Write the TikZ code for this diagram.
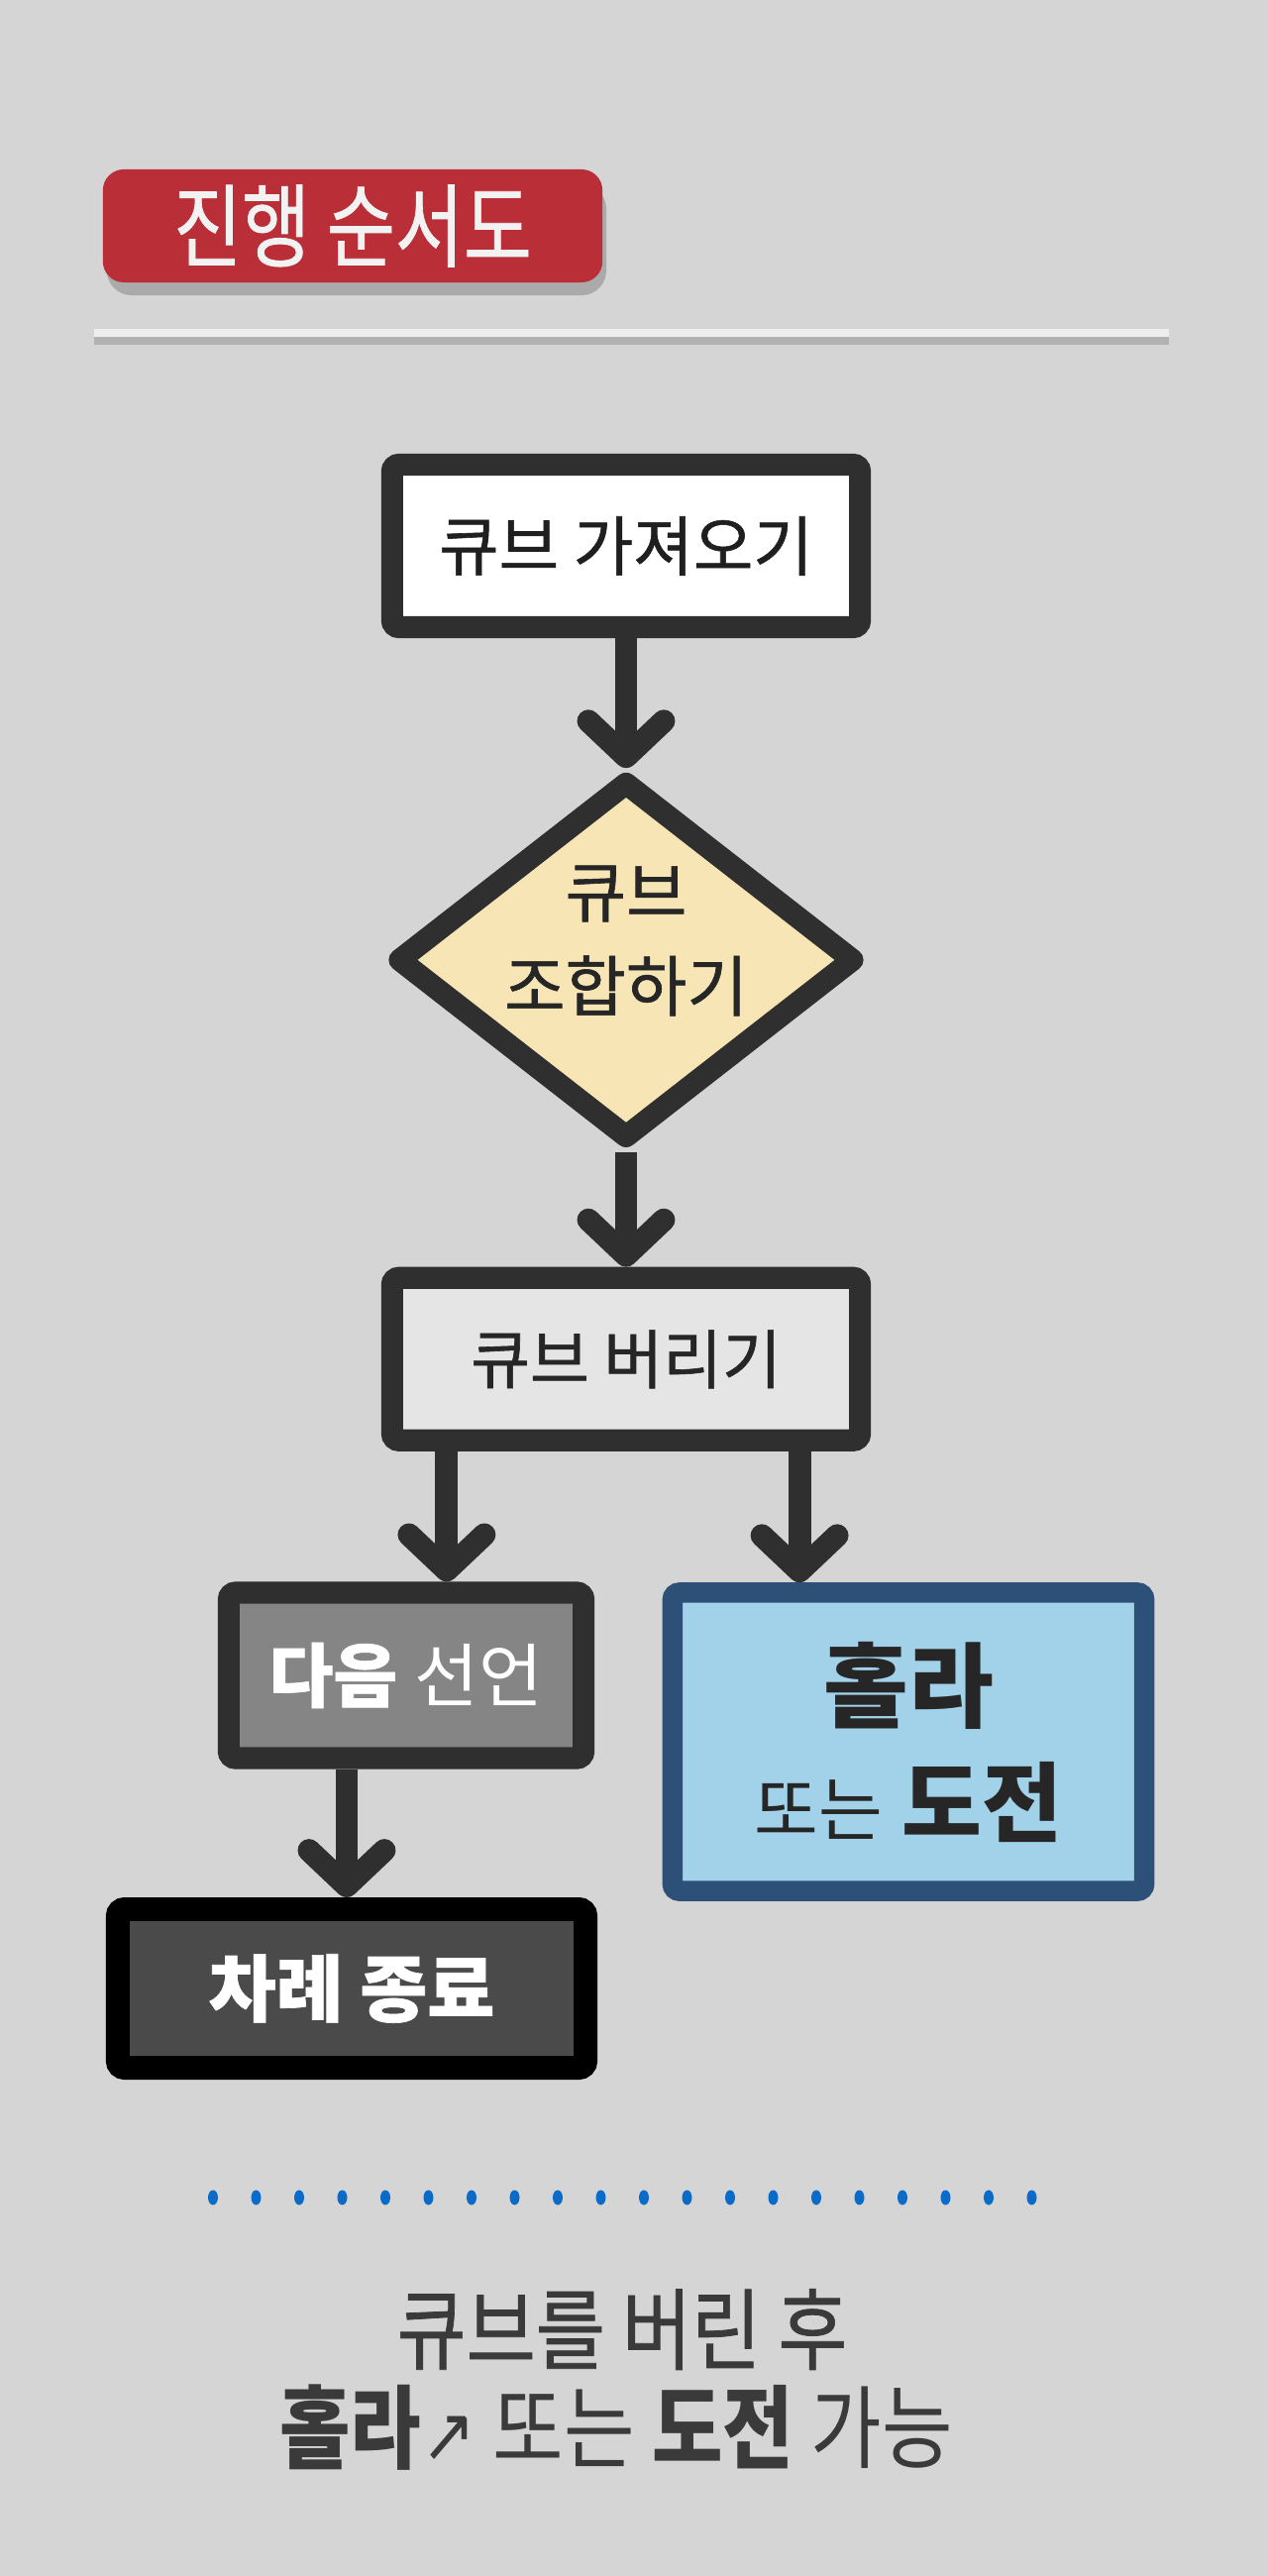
\documentclass[tikz,border=0pt]{standalone}
\usepackage{fontspec}
\setmainfont{Noto Sans CJK KR}
\newfontfamily\medfont{Noto Sans CJK KR}[FakeBold=0.9]
\newfontfamily\symfont{DejaVu Sans}
\usetikzlibrary{arrows.meta,positioning,shapes.geometric}
\definecolor{clBack}{HTML}{D5D5D5}
\definecolor{clLine}{HTML}{2F2F2F}
\definecolor{clBadge}{HTML}{BA2E37}
\definecolor{clIdea}{HTML}{F8E5B6}
\definecolor{clPale}{HTML}{E5E5E5}
\definecolor{clMid}{HTML}{858585}
\definecolor{clDark}{HTML}{4A4A4A}
\definecolor{clNavy}{HTML}{2C5078}
\definecolor{clSky}{HTML}{A2D2E9}
\definecolor{clDot}{HTML}{0A6BC9}
\definecolor{clInk}{HTML}{3A3A3A}
\tikzset{
  box/.style={rectangle, rounded corners=2pt, draw=clLine, line width=6.3pt,
              align=center, inner sep=0pt, minimum width=4.72cm, minimum height=1.64cm},
  plain/.style={box, fill=white, text=black!88, font=\medfont\fontsize{18.7}{22}\selectfont},
  decision/.style={diamond, draw=clLine, fill=clIdea, line width=6.3pt, line join=round,
                   align=center, inner sep=0pt, minimum width=4.66cm, minimum height=3.65cm,
                   text=black!85, font=\medfont\fontsize{19}{27}\selectfont},
  pale/.style={box, fill=clPale, text=black!85, font=\medfont\fontsize{18.5}{22}\selectfont},
  mid/.style={box, fill=clMid, text=white, minimum width=3.58cm, minimum height=1.67cm},
  hula/.style={box, draw=clNavy, fill=clSky, line width=5.8pt, text=black!85,
               minimum width=4.76cm, minimum height=3.01cm, font=\fontsize{18}{33}\selectfont},
  dark/.style={box, draw=black, fill=clDark, line width=6.8pt, text=white,
               minimum height=1.6cm, font=\medfont\fontsize{21}{24}\selectfont\bfseries},
  badge/.style={rectangle, rounded corners=6pt, fill=clBadge, text=white!95!black,
                minimum width=5.04cm, minimum height=1.14cm, font=\medfont\fontsize{26}{28}\selectfont},
  note/.style={text=clInk, inner sep=0pt},
  flow/.style={draw=clLine, line width=6.5pt, -{Straight Barb[length=3.6mm, width=7.6mm, round]}},
}
\begin{document}
\begin{tikzpicture}[x=0.01cm, y=-0.01cm]
  \useasboundingbox[fill=clBack] (0,0) rectangle (1280,2600);
  % title
  \fill[black, opacity=0.2, rounded corners=7pt] (108,186) rectangle (612,298);
  \node[badge] (title) at (356,228) {\scalebox{0.82}[1]{진행 순서도}};
  \draw[white!60!clBack, line width=2pt] (95,336) -- (1180,336);
  \draw[black!30, line width=2.5pt] (95,344) -- (1180,344);
  % flow chart
  \node[plain] (fetch) at (632,551) {큐브 가져오기};
  \node[decision, below=1.31cm of fetch] (combine)
    {\raisebox{0pt}[0pt][0pt]{\begin{tabular}{@{}c@{}}큐브\\조합하기\end{tabular}}};
  \node[pale, below=1.16cm of combine] (discard) {큐브 버리기};
  \node[mid] (next) at (410,1691) {{\fontsize{20}{22}\selectfont\medfont\bfseries 다음}\hspace{0.1cm} {\fontsize{20}{22}\selectfont 선언}};
  \node[hula] (hula) at (917,1758) {{\fontsize{26.5}{33}\selectfont\bfseries 홀라}\\
    {\fontsize{20}{33}\selectfont 또는}\hspace{0.06cm} {\fontsize{25}{33}\selectfont\bfseries 도전}};
  \node[dark] (endturn) at (355,2007) {차례 종료};
  \draw[flow] (fetch) -- (combine);
  \draw[flow] (combine) -- (discard);
  \draw[flow] ([xshift=-1.81cm]discard.south) -- ([xshift=-1.81cm]discard.south |- next.north);
  \draw[flow] ([xshift=1.75cm]discard.south) -- ([xshift=1.75cm]discard.south |- hula.north);
  \draw[flow] ([xshift=-0.6cm]next.south) -- ([xshift=-0.6cm]next.south |- endturn.north);
  % dotted divider
  \foreach \i in {0,...,19}
    \fill[clDot] ({215+\i*43.5},2218) ellipse (0.05cm and 0.075cm);
  % note
  \node[note, font=\medfont\fontsize{25.5}{28}\selectfont] (after) at (628,2351) {\scalebox{0.85}[1]{큐브를 버린 후}};
  \node[note, font=\fontsize{26}{28}\selectfont] (either) at (622,2450)
    {\scalebox{0.85}[1]{\textbf{홀라}{\symfont\fontsize{22}{24}\selectfont ↗} 또는 \textbf{도전} 가능}};
\end{tikzpicture}
\end{document}
